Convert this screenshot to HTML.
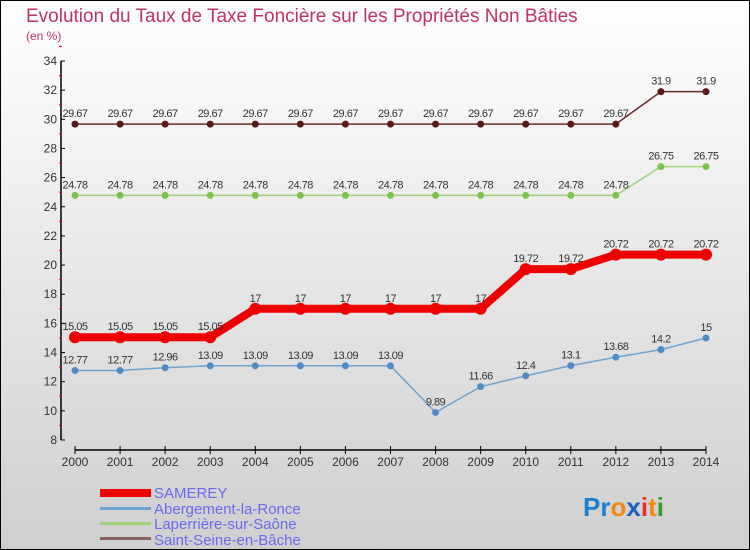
<!DOCTYPE html>
<html><head><meta charset="utf-8"><style>
body{margin:0;width:750px;height:550px;overflow:hidden;font-family:"Liberation Sans",sans-serif}
svg{display:block}
</style></head><body>
<svg id="c" width="750" height="550" xmlns="http://www.w3.org/2000/svg">
<defs><linearGradient id="bg" x1="0" y1="0" x2="0" y2="1"><stop offset="0" stop-color="#ffffff"/><stop offset="1" stop-color="#cfcfcf"/></linearGradient></defs>
<rect x="0.5" y="0.5" width="749" height="549" fill="url(#bg)" stroke="#000"/>
<text x="26" y="22" font-size="19" fill="#c0306a">Evolution du Taux de Taxe Foncière sur les Propriétés Non Bâties</text>
<text x="26" y="40" font-size="12" fill="#c0306a">(en %)</text>
<g id="axes"></g><g id="series"></g>
<g>
<rect x="100" y="489" width="51" height="8" fill="#e00"/>
<text x="154" y="498" font-size="15" fill="#6a6aee">SAMEREY</text>
<rect x="100" y="507" width="51" height="3" fill="#6fa4d0"/>
<text x="154" y="514" font-size="15" fill="#6a6aee">Abergement-la-Ronce</text>
<rect x="100" y="522" width="51" height="3" fill="#9ed27a"/>
<text x="154" y="529" font-size="15" fill="#6a6aee">Laperrière-sur-Saône</text>
<rect x="100" y="537" width="51" height="3" fill="#8a6060"/>
<text x="154" y="545" font-size="15" fill="#6a6aee">Saint-Seine-en-Bâche</text>
</g>
<text x="583" y="516" font-size="26" font-weight="bold"><tspan fill="#1a7fd0">Pr</tspan><tspan fill="#f08a10">o</tspan><tspan fill="#1a60c0">x</tspan><tspan fill="#e03030">i</tspan><tspan fill="#f08a10">t</tspan><tspan fill="#30a030">i</tspan></text>
</svg>
<script>
const years=[2000,2001,2002,2003,2004,2005,2006,2007,2008,2009,2010,2011,2012,2013,2014];
const yTicks=[8,10,12,14,16,18,20,22,24,26,28,30,32,34];
const samerey=[15.05,15.05,15.05,15.05,17,17,17,17,17,17,19.72,19.72,20.72,20.72,20.72];
const abergement=[12.77,12.77,12.96,13.09,13.09,13.09,13.09,13.09,9.89,11.66,12.4,13.1,13.68,14.2,15];
const laperriere=[24.78,24.78,24.78,24.78,24.78,24.78,24.78,24.78,24.78,24.78,24.78,24.78,24.78,26.75,26.75];
const saintSeine=[29.67,29.67,29.67,29.67,29.67,29.67,29.67,29.67,29.67,29.67,29.67,29.67,29.67,31.9,31.9];
const NS="http://www.w3.org/2000/svg";
const X=i=>75+i*(706-75)/(years.length-1);
const Y=v=>440-(v-8)*(440-61)/26;
function mk(tag,attrs,parent,txt){const e=document.createElementNS(NS,tag);for(const k in attrs)e.setAttribute(k,attrs[k]);if(txt!==undefined)e.textContent=txt;parent.appendChild(e);return e;}
const ax=document.getElementById('axes');
let l=mk('line',{x1:61,y1:61,x2:61,y2:440,stroke:'#000','stroke-width':1.5},ax);


yTicks.forEach(t=>{
 mk('line',{x1:61,x2:65,y1:Y(t),y2:Y(t),stroke:'#000'},ax);
 mk('line',{x1:59,x2:62,y1:Y(t+1),y2:Y(t+1),stroke:'#e00'},ax);
 const tx=mk('text',{x:57,y:Y(t)+4,'font-size':12,'text-anchor':'end',fill:'#333'},ax,t);
 
 
});
l=mk('line',{x1:75,y1:450,x2:706,y2:450,stroke:'#000','stroke-width':1.5},ax);


years.forEach((yr,i)=>{
 mk('line',{x1:X(i),x2:X(i),y1:446,y2:454,stroke:'#000'},ax);
 const tx=mk('text',{x:X(i),y:466,'font-size':12,'text-anchor':'middle',fill:'#333'},ax,yr);
 
 
});
const sg=document.getElementById('series');
function draw(vals,name,color,w,r,dot){
 const g=mk('g',{},sg);
 
 
 const p=mk('polyline',{points:vals.map((v,i)=>X(i)+','+Y(v)).join(' '),fill:'none',stroke:color,'stroke-width':w},g);
 
 
 vals.forEach((v,i)=>{
  const c=mk('circle',{cx:X(i),cy:Y(v),r:r,fill:dot},g);
  
  
  const t=mk('text',{x:X(i),y:Y(v)-7,'font-size':11,'text-anchor':'middle',fill:'#333','letter-spacing':'-0.5'},g,String(v));
  
  
 });
}
draw(saintSeine,'saint-seine','#6b2a2a',1.5,3.5,'#5a1a1a');
draw(laperriere,'laperriere','#9ed27a',1.5,3.5,'#7cc24e');
draw(abergement,'abergement','#6fa4d0',1.5,3.5,'#4f8cc4');
draw(samerey,'samerey','#e00',8,6,'#e00');
</script>
</body></html>
